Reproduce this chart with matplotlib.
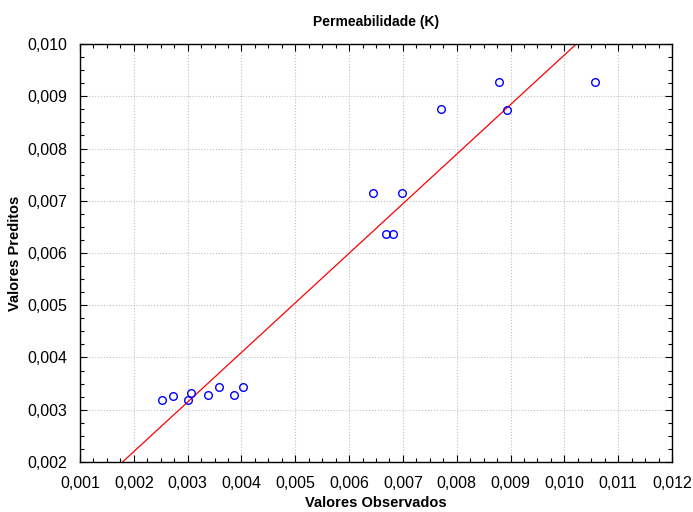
import numpy as np
import matplotlib
matplotlib.use('Agg')
import matplotlib.pyplot as plt
from matplotlib.ticker import MultipleLocator, FuncFormatter

plt.rcParams['font.family'] = ['Liberation Sans', 'DejaVu Sans']

# valores
observados = [0.00252, 0.00273, 0.00306, 0.00300, 0.00337, 0.00358, 0.00386, 0.00402,
              0.00644, 0.00699, 0.00669, 0.00681, 0.00771, 0.00879, 0.00894, 0.01056]
preditos = [0.00319, 0.00326, 0.00332, 0.00319, 0.00328, 0.00343, 0.00328, 0.00343,
            0.00714, 0.00714, 0.00636, 0.00636, 0.00875, 0.00927, 0.00874, 0.00927]

# reta ajustada
inclinacao = 0.949
intercepto = 0.0003

fig = plt.figure(figsize=(6.93, 5.12), dpi=100)
ax = fig.add_axes([0.1154, 0.0977, 0.8543, 0.8163])

xr = np.array([0.001, 0.012])
ax.plot(xr, inclinacao * xr + intercepto, color='red', lw=0.9, zorder=2)
ax.plot(observados, preditos, 'o', mfc='none', mec='blue', ms=5.5, mew=1.0, zorder=3)

ax.set_xlim(0.001, 0.012)
ax.set_ylim(0.002, 0.010)
ax.xaxis.set_major_locator(MultipleLocator(0.001))
ax.yaxis.set_major_locator(MultipleLocator(0.001))
ax.xaxis.set_minor_locator(MultipleLocator(0.00025))
ax.yaxis.set_minor_locator(MultipleLocator(0.00025))
fmt = FuncFormatter(lambda v, p: f'{v:.3f}'.replace('.', ','))
ax.xaxis.set_major_formatter(fmt)
ax.yaxis.set_major_formatter(fmt)

ax.tick_params(which='both', direction='in', top=True, right=True, labelsize=11.5)
ax.tick_params(which='major', length=5, width=0.8)
ax.tick_params(which='minor', length=3, width=0.8)
ax.tick_params(axis='x', pad=10)
ax.tick_params(axis='y', pad=9)
ax.grid(True, which='major', color='#c0c0c0', ls=':', lw=0.8)
for s in ax.spines.values():
    s.set_linewidth(1.0)

ax.set_title('Permeabilidade (K)', fontsize=10, fontweight='bold', pad=13)
ax.set_xlabel('Valores Observados', fontsize=10.5, fontweight='bold', labelpad=4)
ax.set_ylabel('Valores Preditos', fontsize=10.5, fontweight='bold', labelpad=4)

fig.savefig('out.png', dpi=100)
